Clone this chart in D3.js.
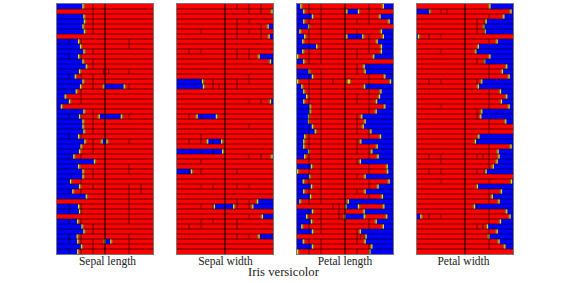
<!DOCTYPE html>
<html><head><meta charset="utf-8">
<script src="https://cdn.jsdelivr.net/npm/d3@7/dist/d3.min.js"></script>
<style>html,body{margin:0;padding:0;background:#fff}svg{display:block}</style></head>
<body><svg id="c" width="568" height="283"></svg>
<script>
const panelNames = ["Sepal length","Sepal width","Petal length","Petal width"];
const labelShift = [2.5,0.5,0,-1.5];
const title = "Iris versicolor";
// share of the ensemble (percent) voting for the blue class from the left / from the right
const sepalLengthLeft = [27,0,28,28.5,27,28.5,0,22.5,24.5,28,22.5,27,30.5,23.5,19,27,24.5,20,8.5,13,4.5,28,23.5,27,27,28,22.5,29,25,23.5,17.5,39,22.5,27,27,14,23.5,16.5,30.5,0,22.5,23.5,0,21.5,26,28,21,21.5,25.5,21.5];
const sepalLengthRight = Array.from({length:50},()=>100);
const sepalLengthMid = [[16,49,70],[22,44,67],[27,47,52],[47,50,56]];
const sepalLengthTicks = [[3],[3],[3],[3],[3],[3],[],[1,2,6],[6],[3],[1,2],[3],[3],[6,3.9,4.3],[1,2,3],[3],[3,6],[2],[2],[2],[],[3],[1,2,3,6],[3],[3],[3],[1,2],[3,6],[3],[3],[1,2],[],[6],[3,6],[3],[1,2],[3,6,7],[1,2,6,7],[6],[6],[1,2,6],[1,2,6],[6],[1,2,6],[3],[3],[1,2,6],[1,2,3,6],[3,6],[1,2,3,6]];

const sepalWidthLeft = [0,0,0,0,0,0,0,0,0,0,0,0,0,0,0,26.5,27.5,0,0,0,0,0,0,0,0,0,0,0,0,47.5,0,0,0,15,0,0,0,0,0,0,0,0,0,0,0,0,0,0,0,0];
const sepalWidthRight = [100,99,100,100,95,100,96,100,100,100,85.5,97.5,100,100,100,100,100,100,100,97.5,100,100,100,100,100,100,100,100,100,100,99,100,100,100,100,100,100,100,100,84,79,100,89,100,100,100,85.5,100,100,100];
const sepalWidthMid = [[22,21,41],[27,32,46.5],[40,39,59]];
const sepalWidthTicks = [[5,6,7],[6,7],[],[5,6],[5,7],[2,5,6,7],[5,7],[],[],[1,2,5,6],[5,6],[],[],[],[6],[2,3,5,6],[3,3.5,4,5],[],[],[6,7],[],[],[1,2],[],[6],[],[2],[1,2,3],[],[2,3],[6,7],[2],[],[1,2,5],[],[],[2,3,5,6],[],[],[5,6],[2,3,5,6],[],[6],[2,3,5],[1,2,5],[],[5,6,7],[],[],[]];

const petalLengthLeft = [4,7,16,7,12,3,8,6,20.5,6,0.5,7,0,12.5,16,0.5,5,7,10,7,13.5,13.5,12,12,16,19,8,7,7,12,8,0,15,0.5,13,6.5,15,7,14,3,0,16,10,15,5,16,0,6.5,16,0.5];
const petalLengthRight = [90,100,86.5,96,100,88,90,83.5,88,88,80,100,70,71,91.5,97.5,70.5,87.5,86,83,91.5,82.5,67.5,71,69,77,87,66.5,83.5,78,84.5,66,94,94.5,71,96,84.5,71,89,53.5,90.5,70,93.5,82.5,90,66,72,71,78,76];
const petalLengthMid = [[1,52,64],[6,52,68.5],[15,53.5,54.5],[40,51,64],[42,50,70]];
const petalLengthTicks = [[1,2,6],[1,2,6],[1,2,6],[1,2,5,6],[1,2],[1,2,5],[1,2,5,6],[1,2,6],[1,2,6],[1,2,5,6],[1,2,5],[1,2],[5,6],[1,2,5],[1,2,6],[1,2,3,6],[1,2,6],[1,2,6],[1,2,5,6],[1,2,5,6],[1,2,6],[1,2,6],[1,2,5],[1,2,5],[1,2,5],[1,2,5,6],[1,2,6],[1,2,5],[1,2,5,6],[1,2,5,6],[1,2,6],[1,2,5],[1,2,6],[1,2,6],[1,2,5],[1,2,6],[1,2,6],[1,2,5],[1,2,6],[1,2],[3,3.5],[1,2,3.5],[1,2,3.5],[1,2,6],[1,2,6],[1,2,5],[5,5.3,5.6],[1,2,5],[1,2,6],[1,2,5,6]];

const petalWidthLeft = [0,13,0,0,0,0,1.5,0,0,0,0,0,0,0,0,0,0,0,0,0,0,0,0,0,0,0,0,0,0,0,0,0,0,0,0,0,0,0,0,0,0,0,4,0,0,0,0,0,0,0];
const petalWidthRight = [76,98,90.5,72,70,71,100,83.5,64,61.5,76,70.5,93.5,89,96,67.5,64,87,93.5,88,96,67.5,66.5,92.5,100,100,64.5,61,98,84.5,85.5,83.5,79.5,72,100,98.5,63,88,78.5,85.5,60,93.5,97,87,73.5,83.5,75,85.5,91.5,100];
const petalWidthMid = [];
const petalWidthTicks = [[],[1,2,2.5],[6],[5,5.6],[5,5.6],[5,5.6],[1,2],[6],[],[2,5],[],[5,5.6],[6],[6],[6],[1,2,5],[],[6],[6],[6],[2,6],[5],[5],[6],[6],[6],[],[5],[6],[6],[1,2,5,5.5,6],[2,6],[6],[1,2,5,5.6],[],[2,6],[],[6],[6],[6],[5],[6],[1,2,6],[6],[5,5.5],[6],[6],[6],[6],[]];

const panelLeft = [sepalLengthLeft,sepalWidthLeft,petalLengthLeft,petalWidthLeft];
const panelRight = [sepalLengthRight,sepalWidthRight,petalLengthRight,petalWidthRight];
const panelMid = [sepalLengthMid,sepalWidthMid,petalLengthMid,petalWidthMid];
const panelTicks = [sepalLengthTicks,sepalWidthTicks,petalLengthTicks,petalWidthTicks];

const svg = d3.select("#c");
const soft = svg.append("defs").append("filter").attr("id","soft").attr("x","-2%").attr("y","-2%").attr("width","104%").attr("height","104%");
soft.append("feGaussianBlur").attr("stdDeviation",0.25);
const rows = d3.range(50);
const y = d3.scaleBand().domain(rows).range([4,254]);
const pos = d3.scaleBand().domain(panelNames).range([57,513]).paddingInner(0.2).paddingOuter(0);
const FONT = '"Liberation Serif", serif';

panelNames.forEach((name,p)=>{
  const x = d3.scaleLinear().domain([0,100]).range([pos(name),pos(name)+pos.bandwidth()]);
  const g = svg.append("g").attr("filter","url(#soft)");
  const rh = y.bandwidth();
  g.append("rect").attr("x",x(0)).attr("y",4).attr("width",x(100)-x(0)).attr("height",250).attr("fill","#ff0000");
  const segs = [];
  rows.forEach(r=>{
    if(panelLeft[p][r]>0) segs.push({r,a:0,b:panelLeft[p][r],l:false,e:true});
    if(panelRight[p][r]<100) segs.push({r,a:panelRight[p][r],b:100,l:true,e:false});
  });
  panelMid[p].forEach(m=>segs.push({r:m[0],a:m[1],b:m[2],l:true,e:true}));
  g.selectAll("rect.b").data(segs).join("rect").attr("class","b")
    .attr("x",d=>x(d.a)).attr("y",d=>y(d.r)).attr("width",d=>x(d.b)-x(d.a)).attr("height",rh).attr("fill","#0000ff");
  // transition edges: olive then yellow between blue and red
  const edges = [];
  segs.forEach(s=>{ if(s.l) edges.push({r:s.r,v:s.a,dir:-1}); if(s.e) edges.push({r:s.r,v:s.b,dir:1}); });
  g.selectAll("rect.o").data(edges).join("rect").attr("class","o")
    .attr("x",d=>x(d.v)+(d.dir>0?0.6:-1.9)).attr("y",d=>y(d.r)).attr("width",1.3).attr("height",rh).attr("fill","#8a6a10");
  g.selectAll("rect.e").data(edges).join("rect").attr("class","e")
    .attr("x",d=>x(d.v)-0.6).attr("y",d=>y(d.r)).attr("width",1.2).attr("height",rh).attr("fill","#e8d820");
  // per-row tick marks on eighths of the axis
  const ticks = [];
  rows.forEach(r=>panelTicks[p][r].forEach(t=>ticks.push({r,t})));
  g.selectAll("line.t").data(ticks).join("line").attr("class","t")
    .attr("x1",d=>x(d.t*12.5)).attr("x2",d=>x(d.t*12.5)).attr("y1",d=>y(d.r)).attr("y2",d=>y(d.r)+rh)
    .attr("stroke","#000").attr("stroke-opacity",0.55).attr("stroke-width",1);
  // row separators
  g.selectAll("line.s").data(rows.slice(0,49)).join("line").attr("class","s")
    .attr("x1",x(0)).attr("x2",x(100)).attr("y1",d=>y(d)+rh).attr("y2",d=>y(d)+rh)
    .attr("stroke","#000").attr("stroke-opacity",0.65).attr("stroke-width",1);
  // centre line and frame
  g.append("line").attr("x1",x(50)).attr("x2",x(50)).attr("y1",4).attr("y2",254)
    .attr("stroke","#000").attr("stroke-opacity",0.7).attr("stroke-width",1.5);
  g.append("rect").attr("x",x(0)-0.5).attr("y",3.5).attr("width",x(100)-x(0)+1).attr("height",251)
    .attr("fill","none").attr("stroke","#777").attr("stroke-width",1);
  svg.append("text").attr("x",x(50)+labelShift[p]).attr("y",265).attr("text-anchor","middle")
    .attr("font-family",FONT).attr("font-size",11.5).attr("fill","#222").text(name);
});
svg.append("text").attr("x",283.5).attr("y",276).attr("text-anchor","middle")
  .attr("font-family",FONT).attr("font-size",12.7).attr("fill","#222").text(title);
</script></body></html>
